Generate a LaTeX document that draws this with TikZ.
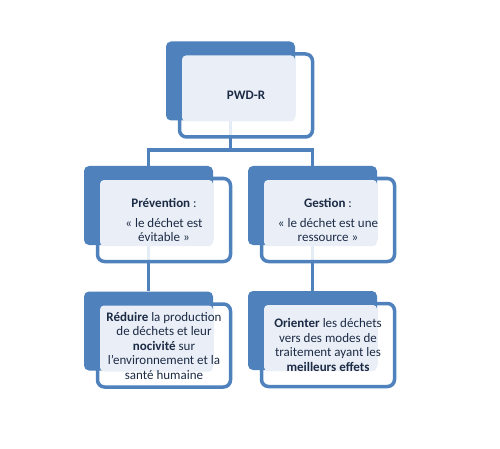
\documentclass[tikz,border=0pt]{standalone}
\usepackage{fontspec}
\setmainfont{Carlito}
\usetikzlibrary{backgrounds}
\definecolor{accent}{HTML}{4F81BD}
\definecolor{lightfill}{HTML}{EAEFF7}
\definecolor{txt}{HTML}{1C2B45}
\tikzset{
 darkbox/.style={fill=accent, draw=none, rounded corners=5pt, minimum width=129pt, minimum height=79pt, inner sep=0pt},
 wbox/.style={draw=accent, line width=3.5pt, fill=white, fill opacity=0.85, rounded corners=7pt, minimum width=133pt, minimum height=83pt, inner sep=0pt},
 lbox/.style={fill=lightfill, draw=none, rounded corners=4pt, minimum width=113pt, minimum height=66pt, inner sep=0pt},
 txtstyle/.style={text=txt, align=center, inner sep=0pt, font=\fontsize{13}{14.5}\selectfont},
 conn/.style={draw=accent, line width=3.5pt},
}
\newcommand\grp[4]{%
 \begin{scope}[shift={(#2,#3)}]
  \node[wbox] (#1w) at (15.5,14.5) {};
  \node[darkbox] (#1d) at (0,0) {};
  \node[lbox] (#1l) at (8,7.5) {};
  \node[txtstyle] (#1t) at (15.5,14.5) {#4};
 \end{scope}}
\begin{document}
\begin{tikzpicture}[x=1pt,y=-1pt]
\useasboundingbox (0,0) rectangle (500,449);
\grp{top}{230.5}{81}{\textbf{PWD-R}}
\grp{ml}{148.5}{205.5}{\textbf{Prévention} :\\[5.5pt]« le déchet est\\évitable »}
\grp{mr}{312.5}{205.5}{\textbf{Gestion} :\\[5.5pt]« le déchet est une\\ressource »}
\grp{ll}{148.5}{331}{\textbf{Réduire} la production\\de déchets et leur\\\textbf{nocivité} sur\\l’environnement et la\\santé humaine}
\grp{lr}{312.5}{330.5}{\textbf{Orienter} les déchets\\vers des modes de\\traitement ayant les\\\textbf{meilleurs effets}}
\begin{scope}[on background layer]
 \fill[white] (0,0) rectangle (500,449);
 \coordinate (j) at (230.5,150);
 \draw[conn] (topd.south) -- (j);
 \draw[conn] (j) -| (mld.north);
 \draw[conn] (j) -| (mrd.north);
 \draw[conn] (mld.south) -- (lld.north);
 \draw[conn] (mrd.south) -- (lrd.north);
\end{scope}
\end{tikzpicture}
\end{document}
